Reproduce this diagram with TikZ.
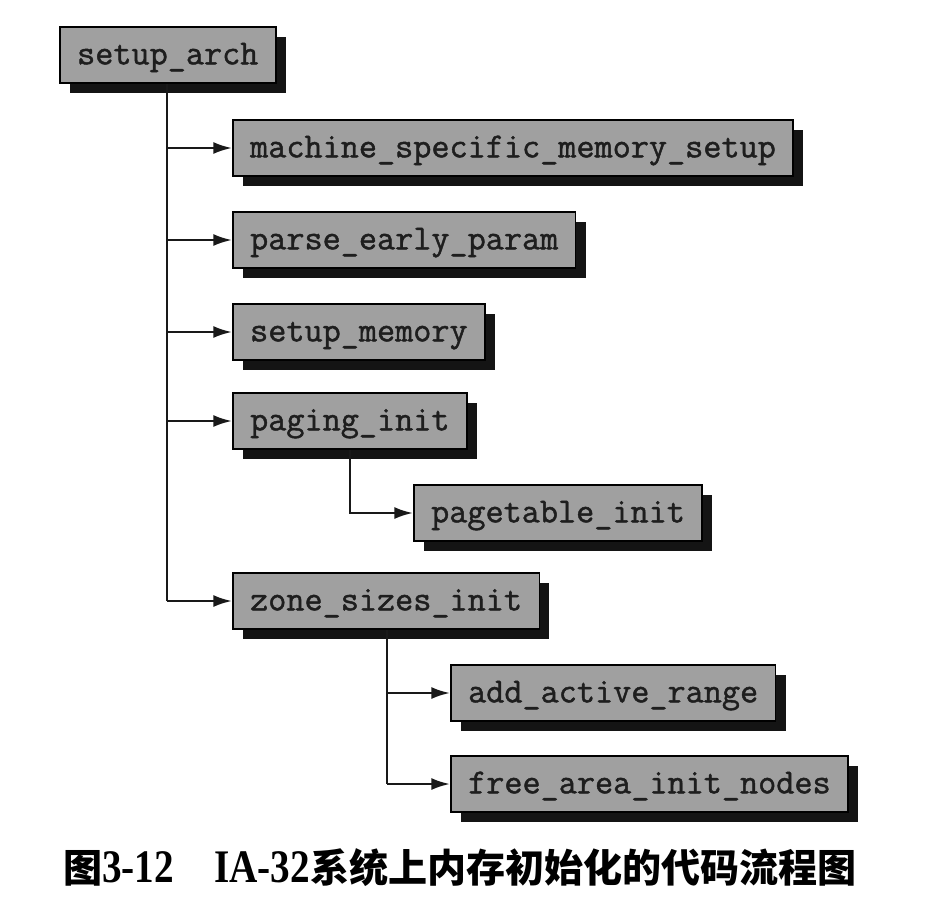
\documentclass[tikz,border=0pt]{standalone}
\usepackage{fontspec}
\setmainfont{Liberation Serif}
\setmonofont{Latin Modern Mono}[FakeBold=1.3]
\newfontfamily\cjkb{Noto Sans CJK SC}
\newfontfamily\capl{Liberation Serif}[FakeStretch=0.84]
\usetikzlibrary{arrows.meta,shadows}
\definecolor{boxgray}{RGB}{160,160,160}
\definecolor{textdark}{RGB}{30,30,30}
\tikzset{
  fn/.style={draw=black, line width=1.2pt, fill=boxgray, text=textdark,
    font=\fontsize{26.4pt}{28pt}\selectfont\ttfamily,
    inner xsep=13pt, inner ysep=0pt, minimum height=42pt,
    text height=19pt, text depth=5pt, anchor=west,
    general shadow={fill=black!92, shadow xshift=7.5pt, shadow yshift=-7.5pt}},
  conn/.style={line width=1.8pt, draw=black!90},
  arr/.style={conn, -{Latex[length=14pt,width=9pt]}}
}
\begin{document}
\begin{tikzpicture}[x=0.75pt,y=-0.75pt]
\fill[white] (0,0) rectangle (938,908);
\useasboundingbox (0,0) rectangle (938,908);
\node[fn] (sa)   at (59,55)   {setup\_arch};
\node[fn] (msms) at (232,148) {machine\_specific\_memory\_setup};
\node[fn] (pep)  at (232,240) {parse\_early\_param};
\node[fn] (sm)   at (232,332) {setup\_memory};
\node[fn] (pi)   at (232,421) {paging\_init};
\node[fn] (pt)   at (413,513) {pagetable\_init};
\node[fn] (zsi)  at (232,601) {zone\_sizes\_init};
\node[fn] (aar)  at (450,693) {add\_active\_range};
\node[fn] (fain) at (450,784) {free\_area\_init\_nodes};
\coordinate (tx) at (167,0);
\coordinate (px) at (350,0);
\coordinate (zx) at (387,0);
\draw[conn] (sa.south -| tx) -- (zsi.west -| tx);
\foreach \n in {msms,pep,sm,pi,zsi} \draw[arr] (\n.west -| tx) -- (\n.west);
\draw[arr] (pi.south -| px) |- (pt.west);
\draw[conn] (zsi.south -| zx) -- (fain.west -| zx);
\draw[arr] (aar.west -| zx) -- (aar.west);
\draw[arr] (fain.west -| zx) -- (fain.west);
\node[anchor=base west, inner sep=0pt] (cap) at (63,882)
  {{\cjkb\bfseries\fontsize{29.3pt}{30pt}\selectfont 图}{\capl\bfseries\fontsize{35pt}{36pt}\selectfont 3-12}\hspace{30pt}{\capl\bfseries\fontsize{35pt}{36pt}\selectfont IA-32}{\cjkb\bfseries\fontsize{29.3pt}{30pt}\selectfont 系统上内存初始化的代码流程图}};
\end{tikzpicture}
\end{document}
